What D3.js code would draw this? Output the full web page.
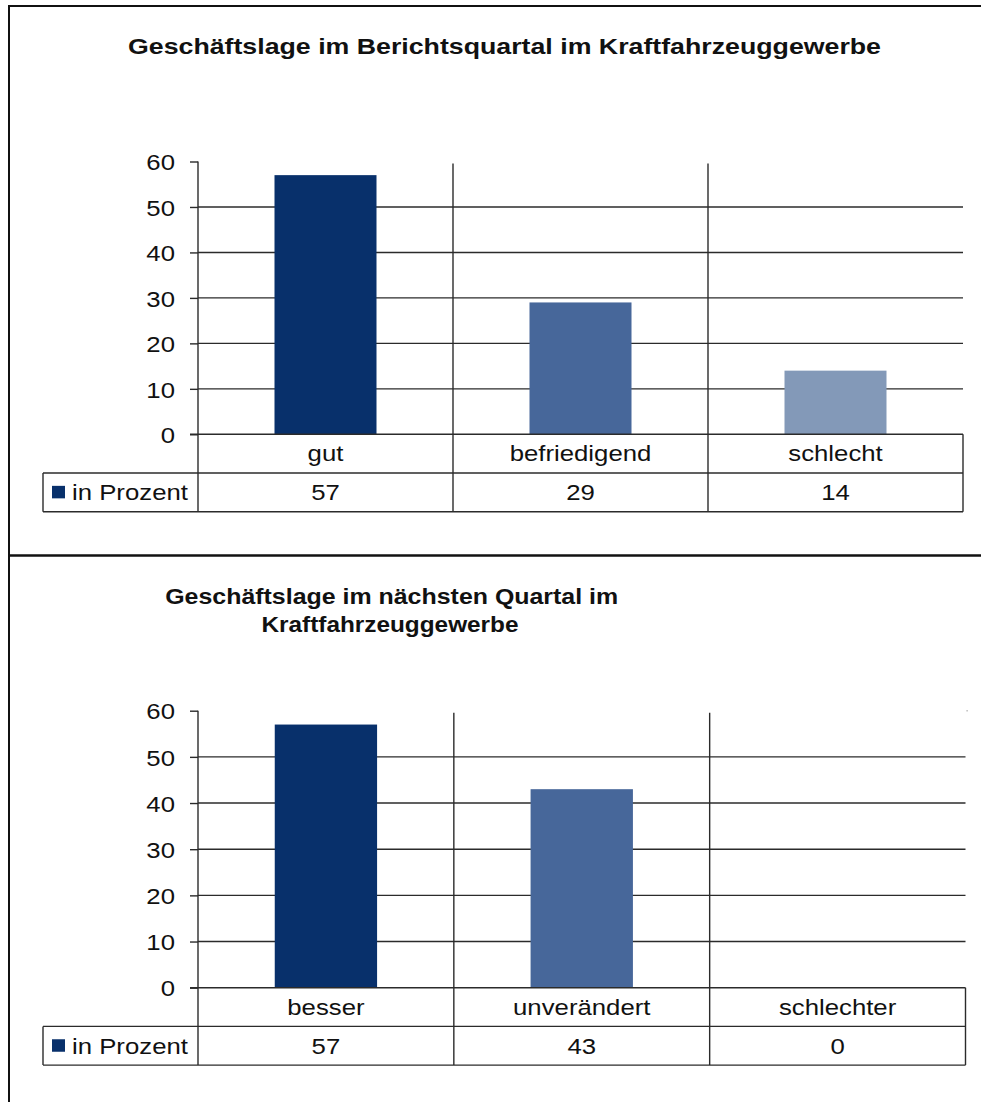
<!DOCTYPE html>
<html><head><meta charset="utf-8">
<script src="https://cdn.jsdelivr.net/npm/d3@7"></script>
<style>
html,body{margin:0;padding:0;background:#fff;}
svg{display:block;font-family:"Liberation Sans",Arial,sans-serif;}
</style></head>
<body>
<svg id="c" width="981" height="1102"></svg>
<script>
// ---- data ----
const title1 = ["Geschäftslage im Berichtsquartal im Kraftfahrzeuggewerbe"];
const categories1 = ["gut", "befriedigend", "schlecht"];
const values1 = [57, 29, 14];

const title2 = ["Geschäftslage im nächsten Quartal im", "Kraftfahrzeuggewerbe"];
const categories2 = ["besser", "unverändert", "schlechter"];
const values2 = [57, 43, 0];

const seriesName = "in Prozent";
const yTicks = [0, 10, 20, 30, 40, 50, 60];
const barColors = ["#08306b", "#47679a", "#8399b8"];

// ---- layout ----
const svg = d3.select("#c");
const LINE = "#2b2b2b";
const LW = 1.4;
const SX = 1.12; // horizontal stretch of text in the original

// outer frame
svg.append("line").attr("x1", 9).attr("x2", 981).attr("y1", 6).attr("y2", 6).attr("stroke", "#111").attr("stroke-width", 2);
svg.append("line").attr("x1", 9).attr("x2", 9).attr("y1", 5).attr("y2", 1102).attr("stroke", "#111").attr("stroke-width", 2);
svg.append("line").attr("x1", 9).attr("x2", 981).attr("y1", 555.5).attr("y2", 555.5).attr("stroke", "#111").attr("stroke-width", 2.3);

function stretchedText(g, x, y, txt, anchor, size) {
  const t = g.append("g").attr("transform", `translate(${x},${y}) scale(${SX},1)`);
  t.append("text").attr("x", 0).attr("y", 0).attr("text-anchor", anchor)
    .attr("font-size", size).attr("fill", "#111").text(txt);
}

function drawChart(cfg) {
  const g = svg.append("g");
  // titles
  cfg.title.forEach((t, i) => {
    g.append("text").attr("x", cfg.titleX[i]).attr("y", cfg.titleY[i])
      .attr("text-anchor", "middle").attr("font-size", 22).attr("font-weight", "bold")
      .attr("fill", "#111").attr("textLength", cfg.titleW[i]).attr("lengthAdjust", "spacingAndGlyphs")
      .text(t);
  });

  const x = d3.scaleBand().domain(cfg.categories).range([cfg.left, cfg.right]).paddingInner(0).paddingOuter(0);
  const y = d3.scaleLinear().domain([0, 60]).range([cfg.bottom, cfg.top]);
  const rowH = cfg.rowH;
  const row1 = cfg.bottom, row2 = cfg.bottom + rowH, row3 = cfg.bottom + 2 * rowH;
  const legendLeft = 43;

  // gridlines (10..50)
  g.append("g").selectAll("line").data(yTicks.filter(d => d > 0 && d < 60)).join("line")
    .attr("x1", cfg.left).attr("x2", cfg.right)
    .attr("y1", d => y(d)).attr("y2", d => y(d))
    .attr("stroke", LINE).attr("stroke-width", LW);

  // bars
  const bw = x.bandwidth() * 0.4;
  g.append("g").selectAll("rect").data(cfg.values).join("rect")
    .attr("x", (d, i) => x(cfg.categories[i]) + (x.bandwidth() - bw) / 2)
    .attr("width", bw)
    .attr("y", d => y(d))
    .attr("height", d => y(0) - y(d))
    .attr("fill", (d, i) => barColors[i]);

  // y axis
  const ax = g.append("g").attr("transform", `translate(${cfg.left},0)`)
    .call(d3.axisLeft(y).tickValues(yTicks).tickSize(8).tickPadding(15).tickFormat(d3.format("d")));
  ax.select(".domain").remove();
  ax.selectAll(".tick line").attr("stroke", LINE).attr("stroke-width", LW);
  ax.selectAll(".tick text").each(function(d) {
    const t = d3.select(this);
    t.attr("font-size", 23).attr("fill", "#111").attr("font-family", "Liberation Sans, Arial, sans-serif")
     .attr("dy", "0.36em").attr("x", 0)
     .attr("transform", `translate(-23,0) scale(${SX},1)`);
  });

  // axis line and vertical separators down through the table
  g.append("line").attr("x1", cfg.left).attr("x2", cfg.left).attr("y1", cfg.top).attr("y2", row3)
    .attr("stroke", LINE).attr("stroke-width", LW);
  g.append("g").selectAll("line").data(cfg.categories.slice(1)).join("line")
    .attr("x1", d => x(d)).attr("x2", d => x(d))
    .attr("y1", cfg.top + 2).attr("y2", row3)
    .attr("stroke", LINE).attr("stroke-width", LW);
  g.append("line").attr("x1", cfg.right).attr("x2", cfg.right).attr("y1", row1).attr("y2", row3)
    .attr("stroke", LINE).attr("stroke-width", LW);
  g.append("line").attr("x1", legendLeft).attr("x2", legendLeft).attr("y1", row2).attr("y2", row3)
    .attr("stroke", LINE).attr("stroke-width", LW);
  // horizontal table lines
  g.append("line").attr("x1", cfg.left - 8).attr("x2", cfg.right).attr("y1", row1).attr("y2", row1)
    .attr("stroke", LINE).attr("stroke-width", LW);
  [row2, row3].forEach(r => g.append("line").attr("x1", legendLeft).attr("x2", cfg.right)
    .attr("y1", r).attr("y2", r).attr("stroke", LINE).attr("stroke-width", LW));

  // category labels and values
  cfg.categories.forEach((c, i) => {
    const cx = x(c) + x.bandwidth() / 2;
    stretchedText(g, cx, row1 + rowH / 2 + 7.5, c, "middle", 23);
    stretchedText(g, cx, row2 + rowH / 2 + 8, String(cfg.values[i]), "middle", 23);
  });

  // legend cell
  g.append("rect").attr("x", 52).attr("y", row2 + rowH / 2 - 6.5).attr("width", 13).attr("height", 12.5)
    .attr("fill", barColors[0]);
  stretchedText(g, 72, row2 + rowH / 2 + 8, seriesName, "start", 23);

  if (cfg.dot) {
    g.append("rect").attr("x", cfg.right + 1).attr("y", cfg.top - 0.5).attr("width", 1.2).attr("height", 1.2).attr("fill", "#999");
  }
}

drawChart({
  title: title1, titleX: [504.5], titleY: [54], titleW: [753],
  categories: categories1, values: values1,
  left: 198, right: 963, top: 161.5, bottom: 434.3, rowH: 38.7
});
drawChart({
  title: title2, titleX: [391.7, 390], titleY: [604.3, 632], titleW: [453, 257],
  categories: categories2, values: values2,
  left: 198, right: 965.5, top: 710.7, bottom: 987.7, rowH: 38.7, dot: true
});
</script>
</body></html>
